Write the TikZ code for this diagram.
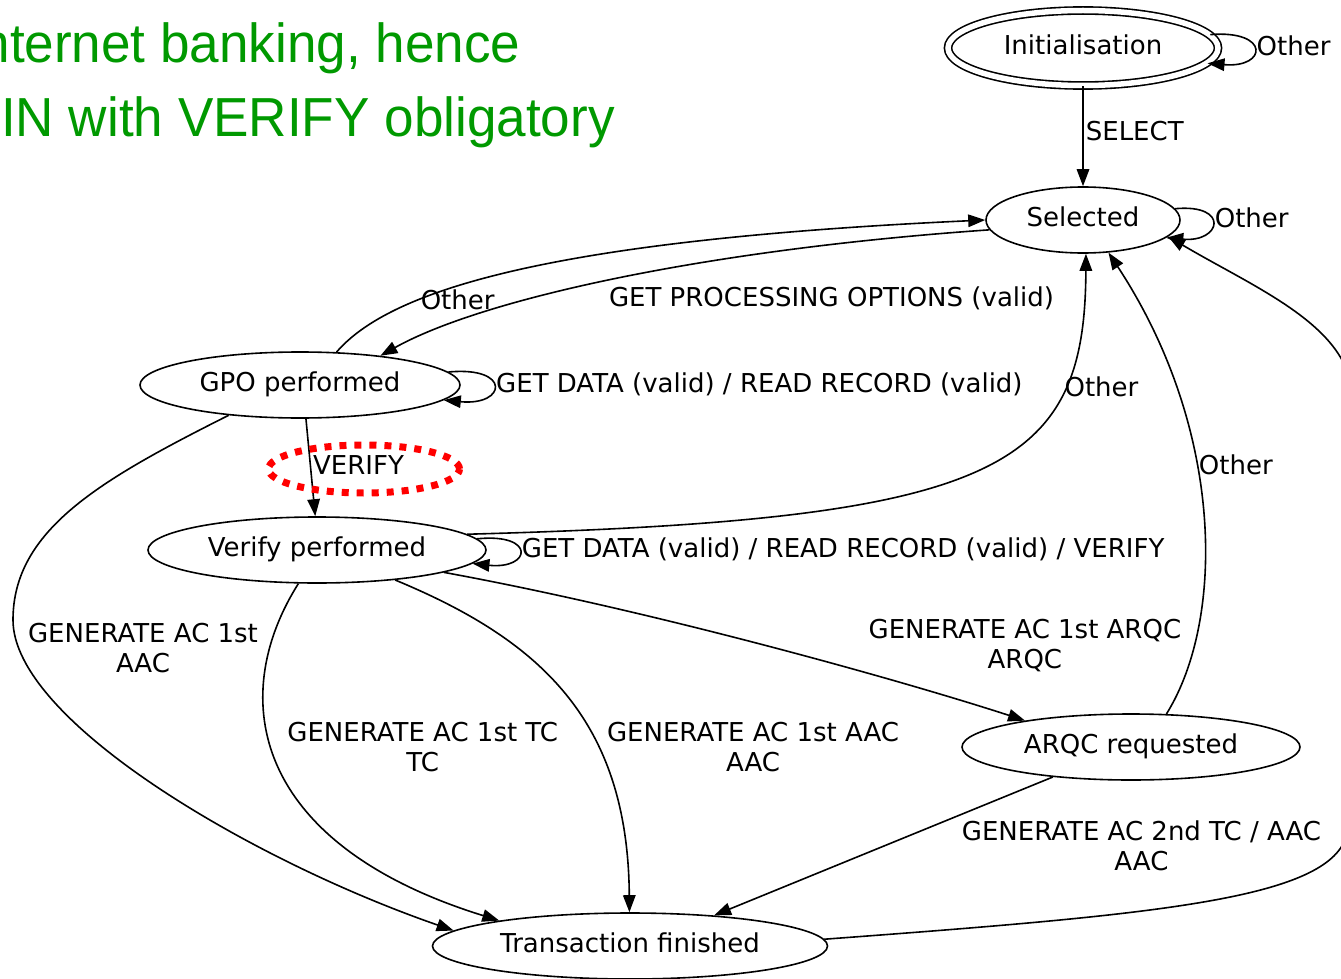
\documentclass[tikz,border=0pt]{standalone}
\usepackage{fontspec}
\setmainfont{DejaVu Sans}
\newfontfamily\notefont{Liberation Sans}
\usetikzlibrary{arrows.meta,shapes.geometric}
\definecolor{notegreen}{RGB}{0,153,0}

\begin{document}
\begin{tikzpicture}[x=1pt, y=-1pt, line width=1.6pt, >={Triangle[length=17pt,width=12.5pt]},
 font=\fontsize{26}{30}\selectfont,
 state/.style={ellipse, draw, inner sep=0pt, minimum height=66pt, text height=18pt, text depth=5pt},
 lbl/.style={inner sep=2pt, align=center},
 note/.style={anchor=base west, inner sep=0pt, text=notegreen, xscale=.965, font=\notefont\fontsize{55}{66}\selectfont}]
 \useasboundingbox (0,0) rectangle (1341,979);
 \clip (0,0) rectangle (1341,979);
 % Note
 \node[note] (note1) at (-35,63) {Internet banking, hence};
 \node[note] (note2) at (-35,137) {PIN with VERIFY obligatory};
 % States
 \node[state, double, double distance=5.5pt, minimum width=270pt, minimum height=75pt] (init) at (1083,48) {Initialisation};
 \node[state, minimum width=194pt] (sel) at (1083,220) {Selected};
 \node[state, minimum width=320pt] (gpo) at (300,385) {GPO performed};
 \node[state, minimum width=338pt] (vfy) at (317,550) {Verify performed};
 \node[state, minimum width=338pt] (arq) at (1131,747) {ARQC requested};
 \node[state, minimum width=395pt] (tf) at (630,946) {Transaction finished};
 % Transitions
 \draw[->] (init.6) .. controls +(60,-5) and +(60,5) .. (init.-7) node[pos=.5, right, yshift=3pt, lbl] {Other};
 \draw[->] (init) -- node[pos=.45, right, lbl] {SELECT} (sel);
 \draw[->] (sel.7) .. controls +(55,-5) and +(55,5) .. (sel.-12) node[pos=.5, right, yshift=5pt, lbl] {Other};
 \draw[->] (gpo.42) .. controls (390,290) and (550,240) .. (sel.180) node[pos=.3, right, lbl] {Other};
 \draw[->] (sel.186) .. controls (700,250) and (480,300) .. (gpo.20) node[pos=.2, xshift=7pt, yshift=-53pt, lbl] {GET PROCESSING OPTIONS (valid)};
 \draw[->] (gpo.5) .. controls +(63,-6) and +(63,6) .. (gpo.-6) node[pos=.5, right, yshift=2pt, lbl] {GET DATA (valid) / READ RECORD (valid)};
 \draw[->] (gpo.-80) -- (vfy.93) node[pos=.47, right, lbl] {VERIFY};
 \draw[red, line width=7pt, dash pattern=on 7pt off 8pt] (364,469) ellipse [x radius=95.5pt, y radius=24pt];
 \draw[->] (vfy.6) .. controls (1000,520) and (1085,470) .. (sel.-85) node[pos=.74, right, yshift=4pt, lbl] {Other};
 \draw[->] (vfy.4) .. controls +(59,-6) and +(59,6) .. (vfy.-5) node[pos=.5, right, yshift=2pt, lbl] {GET DATA (valid) / READ RECORD (valid) / VERIFY};
 \draw[->] (vfy.-10) .. controls (650,610) and (900,680) .. (arq.166) node[pos=.5, xshift=260pt, lbl] {GENERATE AC 1st ARQC\\ARQC};
 \draw[->] (arq.43) .. controls (1225,620) and (1225,430) .. (sel.-52) node[pos=.6, right, lbl] {Other};
 \draw[->] (tf.2) .. controls (1150,915) and (1320,900) .. (1345,840) .. controls (1370,700) and (1375,480) .. (1350,380) .. controls (1335,320) and (1250,285) .. (sel.-11);
 \draw[->] (gpo.203) .. controls (100,480) and (13,530) .. (13,620) node[xshift=130pt, yshift=-28pt, lbl] {GENERATE AC 1st\\AAC} .. controls (13,720) and (250,860) .. (tf.175);
 \draw[->] (vfy.241) .. controls (225,700) and (255,845) .. (tf.169) node[pos=.5, xshift=143pt, yshift=20pt, lbl] {GENERATE AC 1st TC\\TC};
 \draw[->] (vfy.-21) .. controls (540,640) and (628,720) .. (tf.91) node[pos=.6, xshift=165pt, yshift=-18pt, lbl] {GENERATE AC 1st AAC\\AAC};
 \draw[->] (arq.201) -- (tf.20) node[pos=.5, xshift=258pt, lbl] {GENERATE AC 2nd TC / AAC\\AAC};
\end{tikzpicture}
\end{document}
